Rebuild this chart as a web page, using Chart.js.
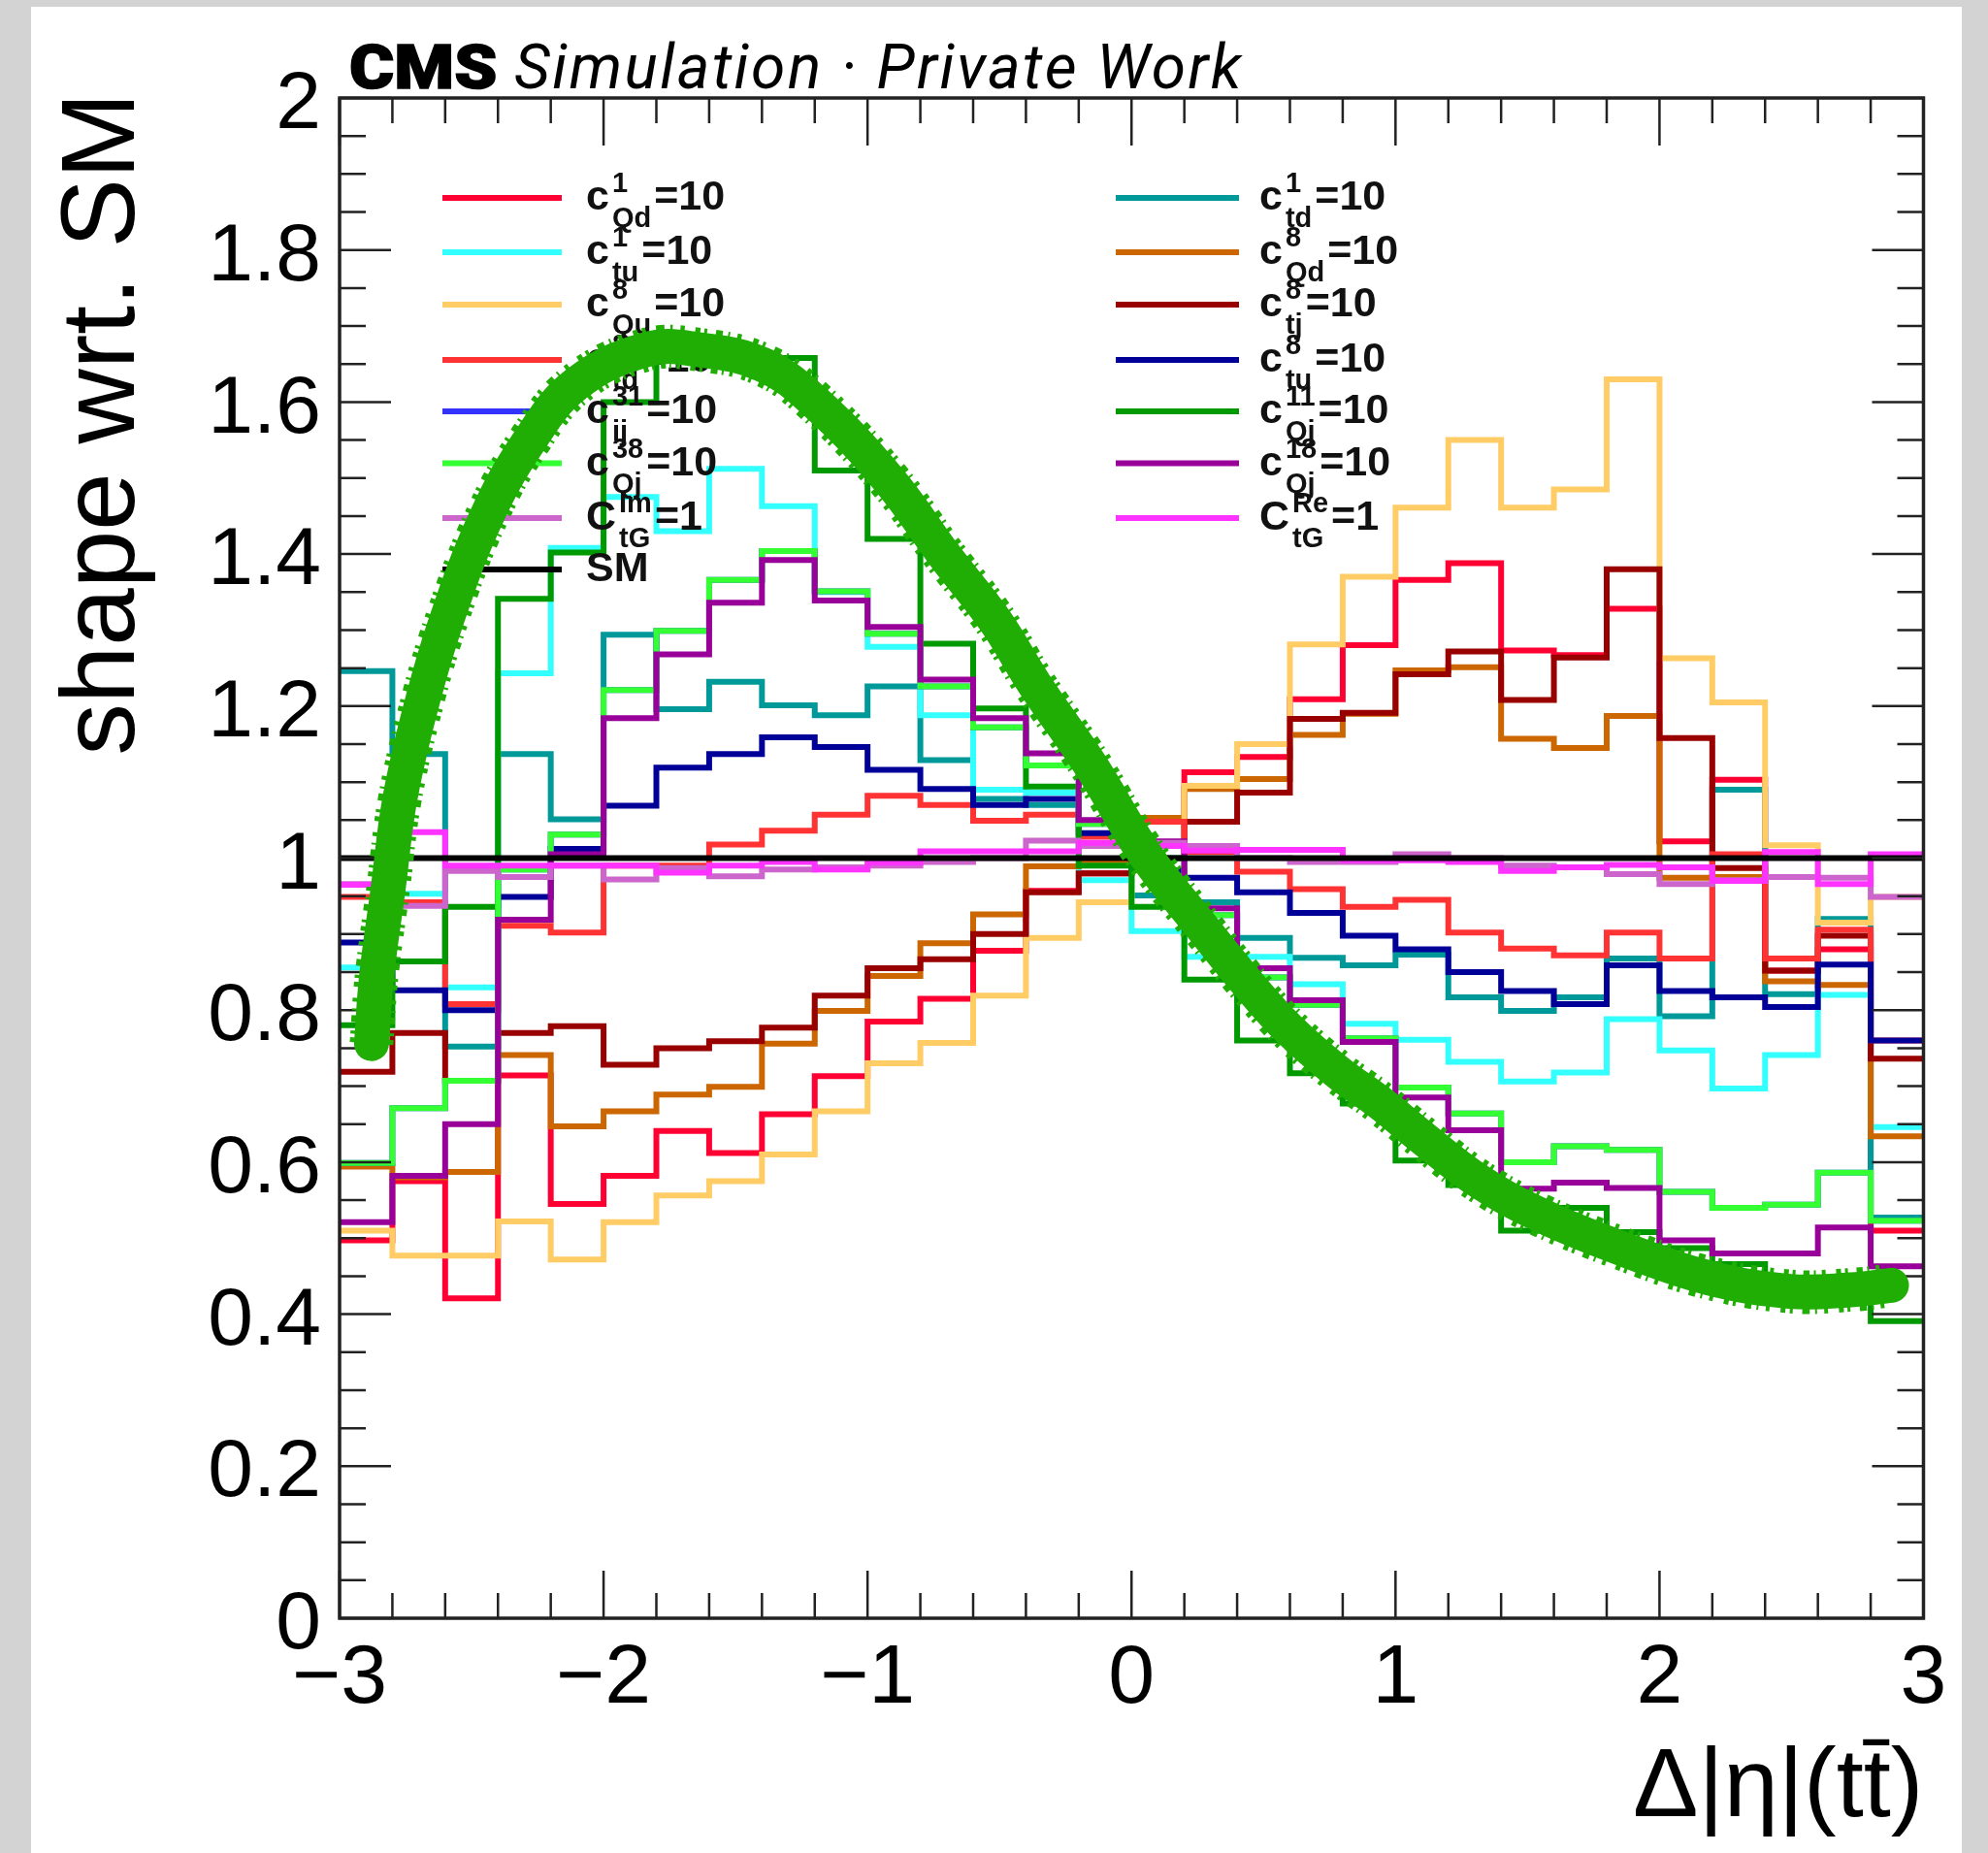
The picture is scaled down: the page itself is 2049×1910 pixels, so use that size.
<!DOCTYPE html>
<html><head><meta charset="utf-8">
<style>html,body{margin:0;padding:0;background:#d3d3d3}canvas{display:block}</style>
<script src="https://cdn.jsdelivr.net/npm/chart.js@4/dist/chart.umd.js"></script>
</head><body><canvas id="c" width="2049" height="1910"></canvas>
<script>
const binEdges=[-3,-2.8,-2.6,-2.4,-2.2,-2,-1.8,-1.6,-1.4,-1.2,-1,-0.8,-0.6,-0.4,-0.2,0,0.2,0.4,0.6,0.8,1,1.2,1.4,1.6,1.8,2,2.2,2.4,2.6,2.8,3];
const c1Qd=[0.497,0.575,0.421,0.714,0.545,0.582,0.641,0.612,0.663,0.713,0.785,0.815,0.878,0.957,0.98,1.02,1.113,1.133,1.209,1.28,1.366,1.388,1.273,1.267,1.328,1.022,1.103,0.852,0.88,0.51];
const c1td=[1.246,1.137,0.752,1.137,1.051,1.294,1.196,1.232,1.201,1.188,1.226,1.129,1.078,1.07,1.03,0.951,0.942,0.895,0.869,0.859,0.873,0.817,0.799,0.817,0.868,0.792,1.09,0.821,0.92,0.527];
const c1tu=[0.856,0.953,0.83,1.243,1.408,1.475,1.43,1.512,1.463,1.35,1.278,1.188,1.09,1.086,0.971,0.904,0.87,0.87,0.834,0.782,0.761,0.732,0.706,0.718,0.788,0.747,0.697,0.741,0.82,0.646];
const c8Qd=[0.594,0.58,0.587,0.741,0.647,0.667,0.689,0.699,0.756,0.799,0.845,0.888,0.926,0.989,0.997,1.053,1.091,1.104,1.162,1.19,1.247,1.251,1.157,1.145,1.187,0.974,0.975,0.838,0.833,0.634];
const c8Qu=[0.51,0.477,0.477,0.522,0.472,0.521,0.556,0.575,0.61,0.667,0.73,0.757,0.819,0.895,0.942,1.0,1.095,1.15,1.281,1.37,1.461,1.55,1.461,1.485,1.63,1.263,1.205,1.017,0.915,0.949];
const c8tj=[0.719,0.77,0.707,0.77,0.779,0.728,0.75,0.759,0.777,0.819,0.855,0.867,0.9,0.955,0.98,1.0,1.048,1.086,1.183,1.191,1.242,1.272,1.208,1.264,1.38,1.158,0.987,0.852,0.898,0.736];
const c8td=[0.949,0.942,0.808,0.911,0.902,0.99,0.99,1.018,1.036,1.057,1.082,1.07,1.049,1.057,1.028,1.048,1.008,0.982,0.959,0.936,0.945,0.902,0.881,0.872,0.902,0.868,1.005,0.868,0.906,0.76];
const c8tu=[0.889,0.826,0.8,0.949,1.012,1.069,1.119,1.137,1.159,1.146,1.116,1.091,1.07,1.078,1.033,0.984,0.974,0.955,0.928,0.898,0.88,0.85,0.825,0.808,0.859,0.825,0.817,0.804,0.86,0.76];
const c31ij=[0.599,0.671,0.707,0.985,1.031,1.221,1.299,1.366,1.404,1.351,1.295,1.226,1.172,1.122,1.045,1.0,0.925,0.843,0.807,0.763,0.698,0.664,0.6,0.621,0.616,0.561,0.54,0.544,0.586,0.523];
const c11Qj=[0.78,0.864,0.936,1.341,1.402,1.6,1.67,1.665,1.658,1.51,1.42,1.282,1.197,1.094,0.99,0.936,0.84,0.76,0.717,0.677,0.602,0.57,0.51,0.54,0.508,0.487,0.466,0.44,0.44,0.391];
const c38Qj=[0.599,0.671,0.707,0.985,1.031,1.221,1.299,1.366,1.404,1.351,1.295,1.226,1.172,1.122,1.045,1.0,0.925,0.843,0.807,0.763,0.698,0.664,0.6,0.621,0.616,0.561,0.54,0.544,0.586,0.523];
const c18Qj=[0.521,0.582,0.65,0.919,1.005,1.184,1.268,1.336,1.392,1.339,1.304,1.235,1.184,1.138,1.05,1.022,0.934,0.855,0.813,0.758,0.685,0.642,0.565,0.573,0.566,0.497,0.48,0.48,0.514,0.463];
const ImCtG=[0.966,0.937,0.983,0.975,0.99,0.972,0.987,0.976,0.985,0.988,0.99,0.995,1.0,1.023,1.016,1.02,1.016,1.0,0.995,0.995,1.005,1.0,0.99,0.988,0.979,0.966,0.971,0.975,0.974,0.949];
const ReCtG=[0.965,1.034,0.99,0.99,0.99,0.99,0.981,0.99,0.995,0.985,0.994,1.009,1.009,1.009,1.02,1.016,1.01,1.011,1.011,0.997,0.997,0.995,0.983,0.988,0.991,0.988,0.97,1.008,0.966,1.005];
const SM=[1,1,1,1,1,1,1,1,1,1,1,1,1,1,1,1,1,1,1,1,1,1,1,1,1,1,1,1,1,1];
const curveX=[-2.879,-2.86,-2.816,-2.772,-2.695,-2.596,-2.446,-2.283,-2.103,-1.838,-1.642,-1.396,-1.199,-0.92,-0.706,-0.516,-0.366,-0.155,0.055,0.265,0.445,0.596,0.776,0.945,1.099,1.316,1.563,1.89,2.184,2.493,2.724,2.879];
const curveY=[0.756,0.844,0.96,1.077,1.195,1.312,1.447,1.548,1.624,1.669,1.669,1.649,1.6,1.498,1.397,1.312,1.228,1.122,1.003,0.91,0.833,0.775,0.72,0.677,0.633,0.575,0.528,0.482,0.448,0.43,0.432,0.438];
const xMajor=[-3,-2,-1,0,1,2,3];
const xMinor=[-2.8,-2.6,-2.4,-2.2,-1.8,-1.6,-1.4,-1.2,-0.8,-0.6,-0.4,-0.2,0.2,0.4,0.6,0.8,1.2,1.4,1.6,1.8,2.2,2.4,2.6,2.8];
const yMajor=[0,0.2,0.4,0.6,0.8,1,1.2,1.4,1.6,1.8,2];
const yMinor=[0.05,0.1,0.15,0.25,0.3,0.35,0.45,0.5,0.55,0.65,0.7,0.75,0.85,0.9,0.95,1.05,1.1,1.15,1.25,1.3,1.35,1.45,1.5,1.55,1.65,1.7,1.75,1.85,1.9,1.95];

// drawing order (first is bottom): row-wise through the ROOT legend
const series=[
 ['c1Qd',c1Qd,'#ff0033'],['c1td',c1td,'#009999'],['c1tu',c1tu,'#33ffff'],['c8Qd',c8Qd,'#cc6600'],
 ['c8Qu',c8Qu,'#ffcc66'],['c8tj',c8tj,'#990000'],['c8td',c8td,'#ff3333'],['c8tu',c8tu,'#000099'],
 ['c31ij',c31ij,'#3333ff'],['c11Qj',c11Qj,'#009900'],['c38Qj',c38Qj,'#33ff33'],['c18Qj',c18Qj,'#990099'],
 ['ImCtG',ImCtG,'#cc66cc'],['ReCtG',ReCtG,'#ff33ff'],['SM',SM,'#000000']];
const legendLeft=[['c','1','Qd','=10','#ff0033'],['c','1','tu','=10','#33ffff'],['c','8','Qu','=10','#ffcc66'],['c','8','td','=10','#ff3333'],['c','31','ij','=10','#3333ff'],['c','38','Qj','=10','#33ff33'],['C','Im','tG','=1','#cc66cc'],['SM','','','','#000000']];
const legendRight=[['c','1','td','=10','#009999'],['c','8','Qd','=10','#cc6600'],['c','8','tj','=10','#990000'],['c','8','tu','=10','#000099'],['c','11','Qj','=10','#009900'],['c','18','Qj','=10','#990099'],['C','Re','tG','=1','#ff33ff']];
const legendRows=[204,260,314,371,424,477.5,534,587];

const N=series.length;
const datasets=series.map(([name,vals,col],i)=>({
  label:name,
  data:binEdges.map((e,k)=>({x:e,y:vals[Math.min(k,vals.length-1)]})),
  borderColor:col,borderWidth:6,pointRadius:0,stepped:true,fill:false,
  borderJoinStyle:'miter',borderCapStyle:'butt',order:N+2-i
}));
const curvePts=curveX.map((x,i)=>({x,y:curveY[i]}));
datasets.push({label:'curve edge',data:curvePts,borderColor:'#20ae04',borderWidth:45,borderDash:[5,4,3,9,7,5,2,7,4,11],
  pointRadius:0,tension:0.4,fill:false,borderCapStyle:'butt',order:1});
datasets.push({label:'curve',data:curvePts,borderColor:'#20ae04',borderWidth:36,
  pointRadius:0,tension:0.4,fill:false,borderCapStyle:'round',borderJoinStyle:'round',order:0});

const FONT='"Liberation Sans"';
function entry(ctx,lx1,lx2,tx,y,e){
  const [sym,sup,sub,val,col]=e;
  ctx.save();
  ctx.strokeStyle=col;ctx.lineWidth=6;ctx.beginPath();ctx.moveTo(lx1,y);ctx.lineTo(lx2,y);ctx.stroke();
  ctx.fillStyle='#111';ctx.textBaseline='alphabetic';ctx.textAlign='left';
  const base=y+12;
  ctx.font='bold 43px '+FONT;ctx.fillText(sym,tx,base);
  let x=tx+ctx.measureText(sym).width+3;
  ctx.font='bold 29px '+FONT;
  if(sup)ctx.fillText(sup,x,base-18);
  if(sub)ctx.fillText(sub,x,base+18);
  const w=Math.max(ctx.measureText(sup).width,ctx.measureText(sub).width);
  ctx.font='bold 43px '+FONT;
  if(val)ctx.fillText(val,x+w+3,base);
  ctx.restore();
}
const root={id:'root',
 afterLayout(ch){ch.scales.y.top-=6;},
 beforeDraw(ch){const c=ch.ctx;c.save();c.fillStyle='#d3d3d3';c.fillRect(0,0,2049,1910);c.fillStyle='#fff';c.fillRect(32,7,1990,1903);c.restore();},
 beforeDatasetDraw(ch,a){
  if(a.index!==N)return;
  const c=ch.ctx,{left,right,top,bottom}=ch.chartArea,sx=ch.scales.x,sy=ch.scales.y;
  c.save();c.strokeStyle='#222';c.lineWidth=2.5;c.beginPath();
  const v=(p,l)=>{c.moveTo(p,bottom);c.lineTo(p,bottom-l);c.moveTo(p,top);c.lineTo(p,top+l);};
  const h=(p,l)=>{c.moveTo(left,p);c.lineTo(left+l,p);c.moveTo(right,p);c.lineTo(right-l,p);};
  xMajor.forEach(t=>v(sx.getPixelForValue(t),49));
  xMinor.forEach(t=>v(sx.getPixelForValue(t),26));
  yMajor.forEach(t=>h(sy.getPixelForValue(t),53));
  yMinor.forEach(t=>h(sy.getPixelForValue(t),27));
  c.stroke();
  c.lineWidth=3.5;c.strokeRect(left,top,right-left,bottom-top);
  c.restore();
  legendLeft.forEach((e,i)=>entry(c,456,579,604,legendRows[i],e));
  legendRight.forEach((e,i)=>entry(c,1150,1277,1298,legendRows[i],e));
 },
 afterDraw(ch){
  const c=ch.ctx;c.save();c.fillStyle='#000';c.strokeStyle='#000';c.textBaseline='alphabetic';c.textAlign='left';
  c.save();c.translate(360,91);c.scale(1.12,1);c.font='900 63px Roboto';c.lineWidth=1.5;c.fillText('CMS',0,0);c.strokeText('CMS',0,0);c.restore();
  c.font='italic 400 64px Roboto';c.letterSpacing='2.4px';c.fillText('Simulation \u00B7 Private Work',530,91);
  c.restore();
 }
};
new Chart(document.getElementById('c'),{
 type:'line',data:{datasets},plugins:[root],
 options:{responsive:false,animation:false,devicePixelRatio:1,
  layout:{padding:{left:0,right:66.5,top:101,bottom:0}},
  plugins:{legend:{display:false},tooltip:{enabled:false},title:{display:false}},
  scales:{
   x:{type:'linear',min:-3,max:3,afterFit(s){s.height=242;},
    grid:{display:false,drawTicks:false},border:{display:false},
    ticks:{stepSize:1,autoSkip:false,maxRotation:0,padding:12,color:'#000',font:{family:FONT,size:86},
      callback:v=>String(v).replace('-','\u2212')},
    title:{display:true,text:'\u0394|\u03B7|(tt\u0304)',align:'end',color:'#000',font:{family:FONT,size:101},padding:{top:0,bottom:5}}},
   y:{type:'linear',min:0,max:2,afterFit(s){s.width=350;},
    grid:{display:false,drawTicks:false},border:{display:false},
    ticks:{stepSize:0.2,autoSkip:false,padding:19,labelOffset:8,color:'#000',font:{family:FONT,size:84},
      callback:v=>String(+v.toFixed(1))},
    title:{display:true,text:'shape wrt. SM',align:'end',color:'#000',font:{family:FONT,size:107},padding:{top:44,bottom:0}}}
  }}
});
</script></body></html>
